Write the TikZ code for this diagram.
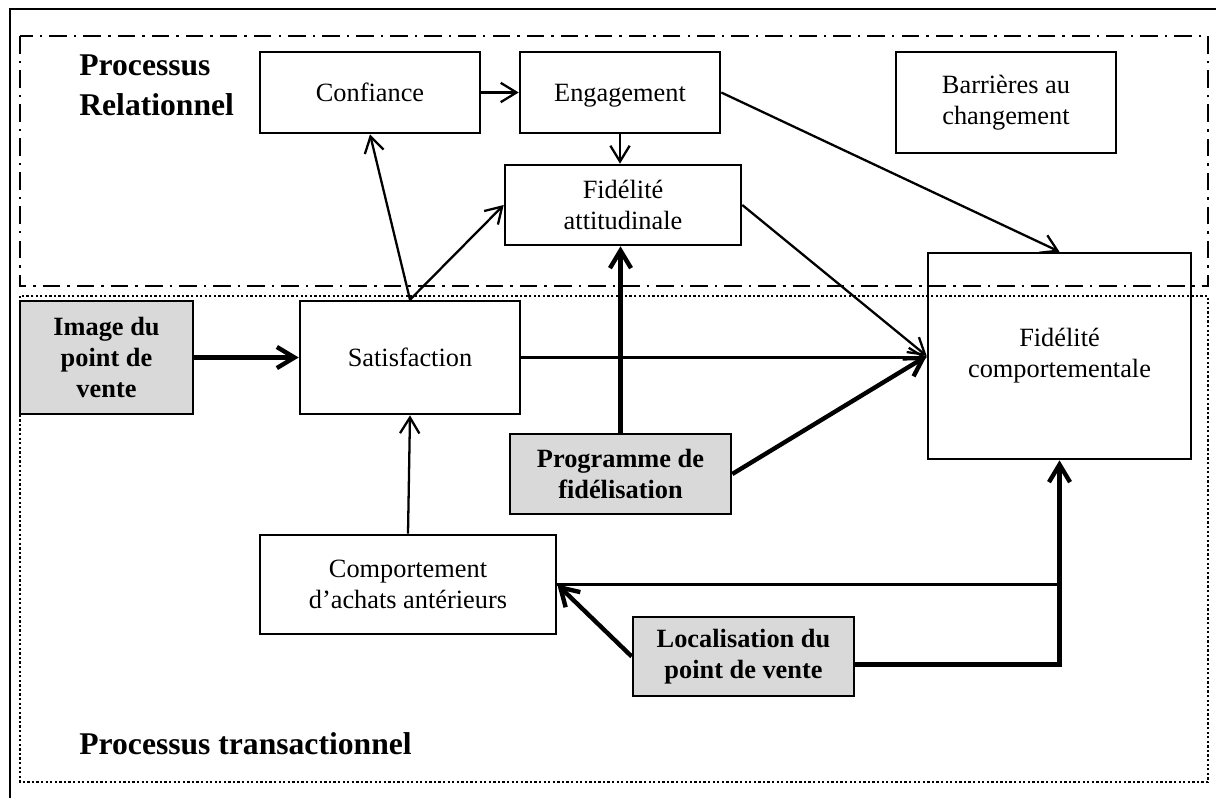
\documentclass[tikz,border=0pt]{standalone}
\usepackage{fontspec}
\setmainfont{Liberation Serif}
\usetikzlibrary{arrows.meta}

\begin{document}
\begin{tikzpicture}[x=0.02cm, y=-0.02cm,
	box/.style={draw, line width=1.5pt, align=center, inner sep=2pt, font=\fontsize{15}{17.5}\selectfont},
	keybox/.style={box, fill=black!15, font=\fontsize{15}{17.5}\selectfont\bfseries},
	oneline/.style={text height=13pt, text depth=3pt},
	thinarrow/.style={line width=1.3pt, -{Straight Barb[length=9pt, width=11pt]}},
	thickarrow/.style={line width=2.5pt, -{Straight Barb[length=10pt, width=12pt]}},
	zone/.style={font=\fontsize{18}{23}\selectfont\bfseries, align=left, inner sep=0pt}]
	\useasboundingbox (0,0) rectangle (1216,798);
	\draw[line width=1.6pt] (1216,9) -- (10,9) -- (10,798);
	\draw[line width=1.6pt, dash pattern=on 10pt off 4pt on 1.4pt off 4pt] (20,36) rectangle (1208,286);
	\draw[line width=1.4pt, dash pattern=on 1.3pt off 1.3pt] (20,296) rectangle (1208,782);
	
	\node[zone, anchor=north west] (rel) at (79,54) {Processus\\Relationnel};
	\node[zone, anchor=base west] (trans) at (79,754) {Processus transactionnel};
	
	\node[box, oneline, minimum width=4.4cm, minimum height=1.62cm] (conf) at (370,92.5) {Confiance};
	\node[box, oneline, minimum width=4cm, minimum height=1.62cm] (eng) at (620,92.5) {Engagement};
	\node[box, minimum width=4.72cm, minimum height=1.6cm] (fatt) at (623,205) {Fidélité\\attitudinale};
	\node[box, minimum width=4.4cm, minimum height=2.02cm] (barr) at (1006,102.5) {Barrières au\\changement};
	\node[box, minimum width=5.26cm, minimum height=4.12cm] (fcomp) at (1059.5,356) {Fidélité\\comportementale};
	\node[keybox, minimum width=3.46cm, minimum height=2.26cm] (img) at (106.5,357.5) {Image du\\point de\\vente};
	\node[box, oneline, minimum width=4.4cm, minimum height=2.26cm] (sat) at (410,357.5) {Satisfaction};
	\node[keybox, minimum width=4.42cm, minimum height=1.6cm] (prog) at (620.5,474) {Programme de\\fidélisation};
	\node[box, minimum width=5.92cm, minimum height=1.98cm] (comp) at (408,584.5) {Comportement\\d'achats antérieurs};
	\node[keybox, minimum width=4.42cm, minimum height=1.58cm] (loc) at (743.5,656.5) {Localisation du\\point de vente};
	
	\draw[thinarrow] (conf) -- (eng);
	\draw[thinarrow] (eng) -- (eng |- fatt.north);
	\draw[thinarrow] (eng.east) -- (fcomp.north);
	\draw[thinarrow] (sat.north) -- (conf.south);
	\draw[thinarrow] (sat.north) -- (fatt.west);
	\draw[thinarrow] (sat.east) -- (sat.east -| fcomp.west);
	\draw[thinarrow] (fatt.east) -- (fcomp.west);
	\draw[thinarrow] (comp.north) -- (sat.south);
	\draw[thickarrow] (img) -- (sat);
	\draw[thickarrow] (prog) -- (prog |- fatt.south);
	\draw[thickarrow] (prog.east) -- (fcomp.west);
	\draw[thickarrow] (loc.west) -- (comp.east);
	\draw[thickarrow] ([yshift=-0.16cm]loc.east) -| (fcomp.south);
	\draw[line width=1.3pt] (comp.east) -- (comp.east -| fcomp.south);
\end{tikzpicture}
\end{document}
